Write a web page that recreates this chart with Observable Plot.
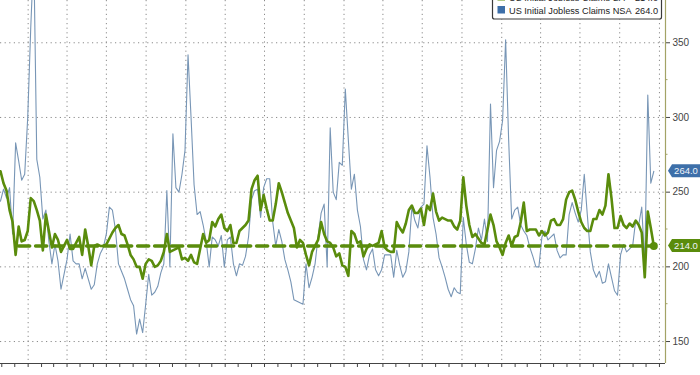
<!DOCTYPE html>
<html><head><meta charset="utf-8">
<script src="https://cdn.jsdelivr.net/npm/d3@7"></script>
<script src="https://cdn.jsdelivr.net/npm/@observablehq/plot@0.6"></script>
<style>html,body{margin:0;padding:0;background:#fff;} svg{display:block}</style>
</head><body><div id="chart"></div>
<script>
// ---- data (weekly) ----
const firstWeek = "2014-10-29";
const domainEnd = "2019-01-15";
const lastLineStart = "2014-12-10";
const seriesNames = ["US Initial Jobless Claims SA", "US Initial Jobless Claims NSA"];
const saValues = [
264,256,251,238,230,208,227,217,218,224,
246,244,238,231,211,235,224,213,222,218,
210,214,218,212,212,216,220,208,225,214,
201,214,215,214,214,215,219,
223,226,228,222,221,215,208,205,200,200,
192,202,205,204,200,201,204,210,222,210,
211,212,213,205,206,204,208,203,202,212,
222,216,218,230,227,232,235,
226,224,228,216,216,224,226,228,231,252,
258,261,238,248,239,231,231,242,256,250,
243,236,231,226,213,218,216,208,201,210,
214,218,230,222,217,216,
213,207,209,201,200,194,224,222,216,217,
207,212,215,214,215,216,224,213,211,210,
210,230,226,223,229,238,241,236,236,239,
228,241,238,249,237,231,233,
232,231,231,227,225,231,260,241,228,220,
222,219,216,215,225,235,228,217,213,208,
216,221,214,220,221,230,243,224,225,225,
225,221,224,221,223,231,
232,228,228,232,245,250,251,245,237,230,
226,224,224,232,232,238,235,241,262,246,
226,226,234,228,226,229,227,231,228,223,
193,237,226,214];
const nsaValues = [
244,252,246,253,222,283,271,258,262,300,
360,410,272,260,232,238,217,202,215,204,
185,195,205,222,204,202,202,192,199,192,
185,188,202,209,213,222,240,
238,225,202,197,192,185,178,174,155,165,
156,175,195,181,183,187,196,202,251,200,
289,253,250,262,278,342,300,255,235,237,
228,217,200,220,218,214,221,
200,218,220,202,194,202,201,207,220,245,
251,252,233,253,259,259,230,214,225,217,
205,198,190,178,177,176,175,202,186,193,
202,220,236,242,200,293,
250,245,270,268,319,285,252,262,238,227,
205,198,208,212,198,194,198,208,208,208,
193,211,201,193,197,210,240,231,226,240,
242,281,260,233,222,206,200,
193,185,180,186,183,182,233,215,203,202,
212,226,218,232,217,309,253,278,284,298,
352,285,232,238,240,228,224,221,213,207,
200,200,220,224,218,220,
222,211,206,208,208,235,243,236,230,238,
262,235,210,198,193,197,189,190,202,193,
184,181,208,215,210,212,214,231,228,240,
202,315,256,264];
const yTicks = [150, 200, 250, 300, 350];
const yMinorTicks = [175, 225, 275, 325];
const yDomain = [135.3, 378.3];

// ---- build tables ----
const start = new Date(firstWeek);
const dates = saValues.map((_, i) => d3.utcDay.offset(start, 7 * i));
const sa = dates.map((date, i) => ({date, value: saValues[i]}));
const nsa = dates.map((date, i) => ({date, value: nsaValues[i]}));
const xDomain = [start, new Date(domainEnd)];
const lastDate = dates[dates.length - 1];
const lastSA = saValues[saValues.length - 1];
const lastNSA = nsaValues[nsaValues.length - 1];
const lastLine = [{date: new Date(lastLineStart), value: lastSA}, {date: lastDate, value: lastSA}];
const quarterTicks = d3.utcMonth.every(3).range(xDomain[0], xDomain[1]);
const monthTicks = d3.utcMonth.range(xDomain[0], xDomain[1]);

const GREEN = "#5a8c0c", BLUE = "#7896b6", GRID = "#8a8a8a", FONT = "'Liberation Sans', Arial, sans-serif";

const plot = Plot.plot({
  width: 700, height: 375,
  marginLeft: 0, marginRight: 35, marginTop: 0, marginBottom: 12,
  style: {fontFamily: FONT, fontSize: "10px", color: "#444", background: "#fff"},
  x: {type: "utc", domain: xDomain, ticks: monthTicks, tickFormat: () => "", tickSize: 4, label: null},
  y: {domain: yDomain, axis: "right", ticks: yTicks, tickSize: 4, tickPadding: 3, label: null, tickFormat: d => String(d)},
  marks: [
    Plot.ruleY(yTicks, {stroke: GRID, strokeDasharray: "1.2,3.4", strokeWidth: 1}),
    Plot.ruleX(quarterTicks, {stroke: GRID, strokeDasharray: "1.2,3.4", strokeWidth: 1}),
    Plot.lineY(nsa, {x: "date", y: "value", stroke: BLUE, strokeWidth: 1.1, clip: true}),
    Plot.lineY(sa, {x: "date", y: "value", stroke: GREEN, strokeWidth: 2.6, clip: true}),
    Plot.lineY(lastLine, {x: "date", y: "value", stroke: GREEN, strokeWidth: 3.6, strokeDasharray: "11,6"}),
    Plot.dot([{date: lastDate, value: lastSA}], {x: "date", y: "value", r: 4, fill: GREEN}),
    Plot.ruleY([yDomain[0]], {stroke: "#444", strokeWidth: 1}),
    Plot.ruleX([xDomain[1]], {stroke: "#a3a366", strokeWidth: 1.2})
  ]
});
document.getElementById("chart").appendChild(plot);

// ---- extras drawn with the plot's own scales ----
const svg = d3.select(plot);
const ys = plot.scale("y"), xs = plot.scale("x");
const xr = xs.apply(xDomain[1]);
const g = svg.append("g").attr("text-anchor", "start");
yMinorTicks.forEach(v => {
  g.append("line").attr("x1", xr).attr("x2", xr + 2.5)
   .attr("y1", ys.apply(v)).attr("y2", ys.apply(v)).attr("stroke", "#a3a366");
});
function valueTag(v, fill) {
  const y = ys.apply(v);
  g.append("path")
   .attr("d", `M${xr + 3},${y} L${xr + 7},${y - 6.5} L700,${y - 6.5} L700,${y + 6.5} L${xr + 7},${y + 6.5} Z`)
   .attr("fill", fill);
  g.append("text").attr("x", xr + 21).attr("y", y + 3.5).attr("text-anchor", "middle")
   .attr("fill", "#eef4fb").attr("font-size", "9.5px").attr("font-family", FONT)
   .text(v.toFixed(1));
}
valueTag(lastNSA, "#3d6fa9");
valueTag(lastSA, "#5a8c0c");

// legend (top row cut by the frame, as in the source)
const lg = svg.append("g").attr("text-anchor", "start");
lg.append("rect").attr("x", 492.5).attr("y", -16).attr("width", 169).attr("height", 35)
  .attr("fill", "#fff").attr("stroke", "#3a3a3a").attr("stroke-width", 1.2).attr("rx", 2);
const rows = [
  {name: seriesNames[0], value: lastSA, color: GREEN, base: 1},
  {name: seriesNames[1], value: lastNSA, color: "#3d6fa9", base: 14}
];
rows.forEach(r => {
  lg.append("rect").attr("x", 497.5).attr("y", r.base - 8).attr("width", 7.5).attr("height", 7.5).attr("fill", r.color);
  lg.append("text").attr("x", 509).attr("y", r.base).attr("font-size", "9.2px").attr("fill", "#222")
    .attr("text-anchor", "start").attr("font-family", FONT).text(r.name);
  lg.append("text").attr("x", 658).attr("y", r.base).attr("font-size", "9.2px").attr("fill", "#222")
    .attr("text-anchor", "end").attr("font-family", FONT).text(r.value.toFixed(1));
});
</script>
</body></html>
